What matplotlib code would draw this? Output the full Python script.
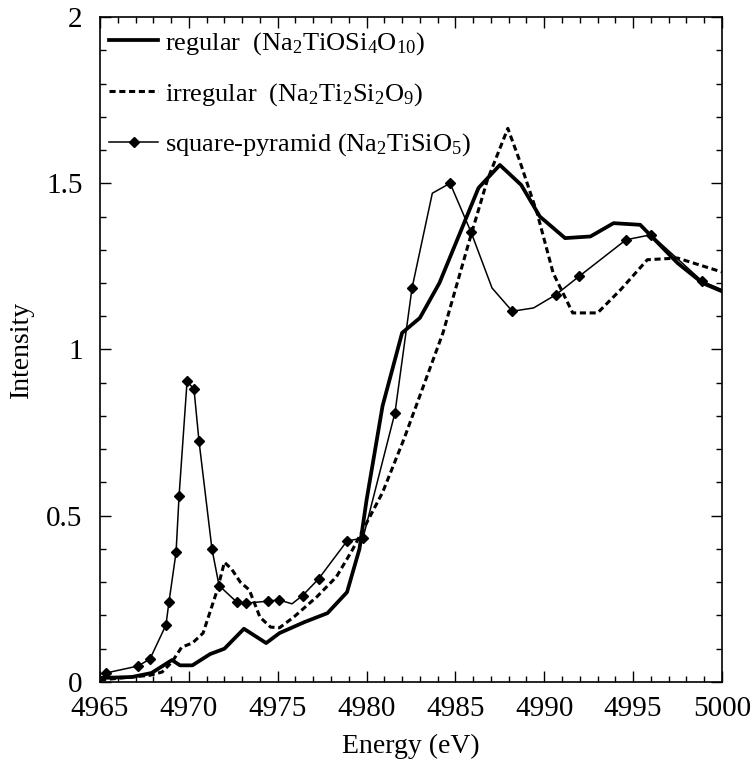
import matplotlib
matplotlib.use("Agg")
import matplotlib.pyplot as plt
from matplotlib.ticker import MultipleLocator, FuncFormatter

plt.rcParams['font.family'] = ['Liberation Serif', 'DejaVu Serif']
plt.rcParams['mathtext.fontset'] = 'custom'
plt.rcParams['mathtext.rm'] = 'Liberation Serif'
plt.rcParams['mathtext.it'] = 'Liberation Serif:italic'

# regular (Na2TiOSi4O10)
reg_e = [4965.0, 4966.8, 4967.9, 4969.05, 4969.5, 4970.2, 4971.2, 4972.0, 4973.1, 4974.35,
         4975.1, 4976.5, 4977.8, 4978.9, 4979.6, 4980.0, 4980.9, 4982.0, 4983.0, 4984.1,
         4986.3, 4987.5, 4988.7, 4989.75, 4991.17, 4992.6, 4993.9, 4995.4, 4997.5, 4998.9, 5000.0]
reg_i = [0.012, 0.015, 0.027, 0.066, 0.05, 0.05, 0.084, 0.10, 0.16, 0.117,
         0.147, 0.18, 0.207, 0.27, 0.40, 0.547, 0.83, 1.05, 1.095, 1.2,
         1.486, 1.555, 1.495, 1.40, 1.335, 1.34, 1.38, 1.375, 1.26, 1.20, 1.175]

# irregular (Na2Ti2Si2O9)
irr_e = [4965.0, 4967.8, 4968.5, 4969.05, 4969.6, 4970.2, 4970.8, 4971.6, 4972.0, 4972.4,
         4972.9, 4973.4, 4974.0, 4974.6, 4975.1, 4975.9, 4977.2, 4978.3, 4979.2, 4980.0,
         4980.9, 4982.1, 4984.3, 4985.8, 4986.8, 4987.95, 4988.6, 4989.6, 4990.5, 4991.6,
         4993.0, 4994.3, 4995.8, 4997.5, 5000.0]
irr_i = [0.006, 0.02, 0.03, 0.06, 0.105, 0.117, 0.147, 0.277, 0.36, 0.34,
         0.30, 0.277, 0.195, 0.165, 0.163, 0.195, 0.256, 0.316, 0.397, 0.478,
         0.57, 0.73, 1.05, 1.33, 1.51, 1.665, 1.57, 1.41, 1.23, 1.11,
         1.11, 1.18, 1.27, 1.275, 1.233]

# square-pyramid (Na2TiSiO5)
sq_e = [4965.34, 4967.14, 4967.81, 4968.71, 4968.88, 4969.28, 4969.45, 4969.9, 4970.29, 4970.57,
        4971.3, 4971.7, 4972.7, 4973.2, 4974.45, 4975.07, 4975.8, 4976.4, 4977.3, 4978.9,
        4979.8, 4981.6, 4982.56, 4983.7, 4984.7, 4985.88, 4987.06, 4988.2, 4989.4, 4990.66,
        4991.96, 4994.6, 4996.0, 4998.9, 5000.0]
sq_i = [0.027, 0.048, 0.069, 0.171, 0.24, 0.39, 0.56, 0.905, 0.88, 0.725,
        0.40, 0.29, 0.24, 0.237, 0.243, 0.247, 0.235, 0.26, 0.31, 0.424,
        0.433, 0.81, 1.185, 1.47, 1.50, 1.353, 1.185, 1.115, 1.125, 1.165,
        1.22, 1.33, 1.345, 1.205, 1.18]
sq_marker_idx = [0, 1, 2, 3, 4, 5, 6, 7, 8, 9, 10, 11, 12, 13, 14, 15, 17, 18, 19, 20,
                 21, 22, 24, 25, 27, 29, 30, 31, 32, 33]

fig = plt.figure(figsize=(7.53, 7.63), dpi=100)
ax = fig.add_axes([0.1328, 0.1062, 0.826, 0.8715])

ax.plot(reg_e, reg_i, color='black', lw=2.7, solid_joinstyle='round',
        label=r'regular  ($\mathregular{Na_2TiOSi_4O_{10}}$)')
ax.plot(irr_e, irr_i, color='black', lw=2.2, dashes=(2.0, 1.2),
        label=r'irregular  ($\mathregular{Na_2Ti_2Si_2O_9}$)')
ax.plot(sq_e, sq_i, color='black', lw=1.1, marker='D', markersize=5.5,
        markevery=sq_marker_idx,
        label=r'square-pyramid ($\mathregular{Na_2TiSiO_5}$)')

ax.set_xlim(4965, 5000)
ax.set_ylim(0, 2)
ax.xaxis.set_major_locator(MultipleLocator(5))
ax.xaxis.set_minor_locator(MultipleLocator(1))
ax.yaxis.set_major_locator(MultipleLocator(0.5))
ax.yaxis.set_minor_locator(MultipleLocator(0.1))
ax.yaxis.set_major_formatter(FuncFormatter(lambda v, p: f'{v:g}'))
ax.tick_params(which='both', direction='in', top=True, right=True, labelsize=21, width=1.0)
ax.tick_params(which='major', length=8)
ax.tick_params(axis='x', which='major', pad=10)
ax.tick_params(axis='y', which='major', pad=12.5)
ax.tick_params(which='minor', length=4.5)
for s in ax.spines.values():
    s.set_linewidth(1.2)

ax.set_xlabel('Energy (eV)', fontsize=20, labelpad=8.5)
ax.set_ylabel('Intensity', fontsize=20, labelpad=8.5)

leg = ax.legend(loc='upper left', bbox_to_anchor=(-0.0065, 1.0), frameon=False,
                fontsize=19, handlelength=1.85, handletextpad=0.25,
                borderaxespad=0.3, labelspacing=0.9, borderpad=0.2)

fig.savefig('out.png', dpi=100)
